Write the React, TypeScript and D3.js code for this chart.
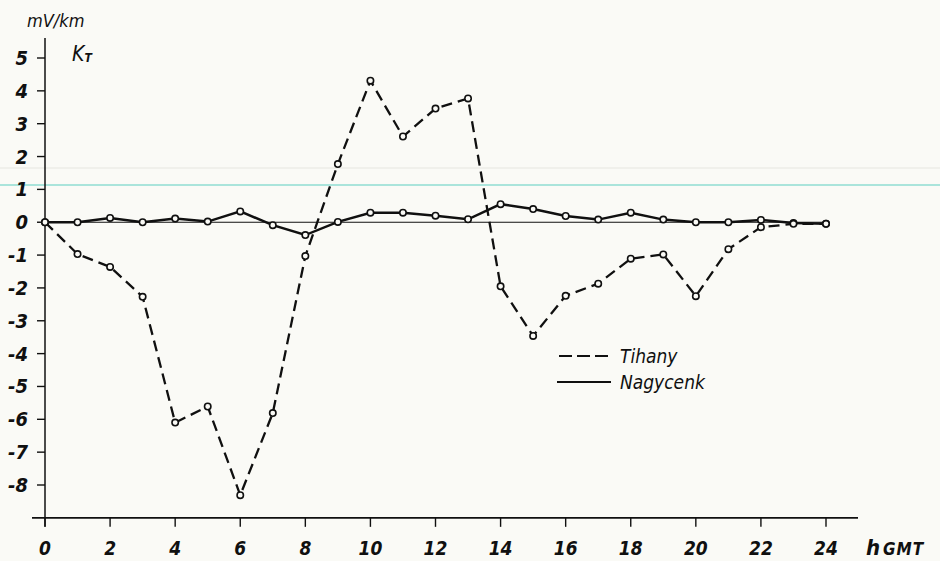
import React from "react";
import * as d3 from "d3";

// Hourly telluric field component K_T (mV/km), 0–24 h GMT
const hours: number[] = d3.range(0, 25);

const tihany: number[] = [
  0, -0.97, -1.36, -2.27, -6.1, -5.61, -8.31, -5.81, -1.03, 1.77, 4.31, 2.61,
  3.46, 3.77, -1.95, -3.46, -2.24, -1.87, -1.11, -0.98, -2.25, -0.82, -0.15,
  -0.05, -0.05,
];

const nagycenk: number[] = [
  0, 0, 0.13, 0, 0.11, 0.02, 0.33, -0.09, -0.39, 0.01, 0.29, 0.29, 0.2, 0.09,
  0.55, 0.4, 0.19, 0.08, 0.29, 0.08, 0, 0, 0.07, -0.02, -0.05,
];

const yTicks: number[] = [5, 4, 3, 2, 1, 0, -1, -2, -3, -4, -5, -6, -7, -8];
const xTicks: number[] = [0, 2, 4, 6, 8, 10, 12, 14, 16, 18, 20, 22, 24];

const seriesNames = ["Tihany", "Nagycenk"];

const W = 940;
const H = 561;
const FONT =
  "'Liberation Sans Narrow', 'DejaVu Sans Condensed', 'Liberation Sans', 'DejaVu Sans', sans-serif";
const INK = "#101010";
const PAPER = "#fafaf6";

export default function App() {
  const x = d3.scaleLinear().domain([0, 24]).range([45, 826]);
  const y = d3.scaleLinear().domain([-8, 5]).range([485, 58]);

  const lineGen = d3
    .line<[number, number]>()
    .x((d) => x(d[0]))
    .y((d) => y(d[1]));

  const tPts: [number, number][] = hours.map((h, i) => [h, tihany[i]]);
  const nPts: [number, number][] = hours.map((h, i) => [h, nagycenk[i]]);

  const axisY = y(-9);
  const x0 = x(0);

  return (
    <div style={{ position: "absolute", left: 0, top: 0 }}>
      <svg
        width={W}
        height={H}
        viewBox={`0 0 ${W} ${H}`}
        style={{ display: "block", background: PAPER }}
        fontFamily={FONT}
      >
        <rect width={W} height={H} fill={PAPER} />
        {/* faint ruled lines across the sheet */}
        <line x1={0} x2={W} y1={168} y2={168} stroke="#e6e6e0" strokeWidth={1} />
        <line x1={0} x2={W} y1={185} y2={185} stroke="#8fdcd2" strokeWidth={1.6} />

        {/* axes */}
        <line x1={x0} x2={x0} y1={38} y2={axisY + 9} stroke={INK} strokeWidth={1.5} />
        <line x1={32} x2={858} y1={axisY} y2={axisY} stroke={INK} strokeWidth={1.8} />
        {/* zero reference */}
        <line x1={x0} x2={x(24) + 3} y1={y(0)} y2={y(0)} stroke={INK} strokeWidth={1.1} />

        {/* y ticks and labels */}
        {yTicks.map((t) => (
          <g key={`y${t}`}>
            <line x1={x0 - 8} x2={x0} y1={y(t)} y2={y(t)} stroke={INK} strokeWidth={1.4} />
            <text
              x={28}
              y={y(t) + 7}
              textAnchor="end"
              fontSize={20}
              fontStyle="italic"
              fontWeight="bold"
              fill={INK}
            >
              {t}
            </text>
          </g>
        ))}

        {/* x ticks and labels */}
        {xTicks.map((t) => (
          <g key={`x${t}`}>
            <line x1={x(t)} x2={x(t)} y1={axisY} y2={axisY + 9} stroke={INK} strokeWidth={1.4} />
            <text
              x={x(t)}
              y={555}
              textAnchor="middle"
              fontSize={19}
              fontStyle="italic"
              fontWeight="bold"
              fill={INK}
            >
              {t}
            </text>
          </g>
        ))}
        <text x={866} y={555} fontSize={22} fontStyle="italic" fontWeight="bold" fill={INK}>
          h
        </text>
        <text
          x={883}
          y={555}
          fontSize={17}
          fontStyle="italic"
          fontWeight="bold"
          letterSpacing={1}
          fill={INK}
        >
          GMT
        </text>

        {/* axis title */}
        <text x={27} y={27} fontSize={18} fontStyle="italic" fill={INK}>
          mV/km
        </text>
        <text x={72} y={61} fontSize={21} fontStyle="italic" fill={INK}>
          K
          <tspan fontSize={12} dy={1} fontWeight="bold">
            T
          </tspan>
        </text>

        {/* series */}
        <path
          d={lineGen(tPts) ?? ""}
          fill="none"
          stroke={INK}
          strokeWidth={2.3}
          strokeDasharray="11 6"
        />
        <path d={lineGen(nPts) ?? ""} fill="none" stroke={INK} strokeWidth={2.5} />

        {nPts.map((p, i) => (
          <circle
            key={`n${i}`}
            cx={x(p[0])}
            cy={y(p[1])}
            r={3.2}
            fill={PAPER}
            stroke={INK}
            strokeWidth={1.6}
          />
        ))}
        {tPts.map((p, i) => (
          <circle
            key={`t${i}`}
            cx={x(p[0])}
            cy={y(p[1])}
            r={3.2}
            fill={PAPER}
            stroke={INK}
            strokeWidth={1.6}
          />
        ))}

        {/* legend */}
        <line
          x1={559}
          x2={611}
          y1={356}
          y2={356}
          stroke={INK}
          strokeWidth={2.2}
          strokeDasharray="13 5"
        />
        <text x={620} y={363} fontSize={19} fontStyle="italic" fill={INK}>
          {seriesNames[0]}
        </text>
        <line x1={557} x2={611} y1={382} y2={382} stroke={INK} strokeWidth={2.2} />
        <text x={620} y={389} fontSize={19} fontStyle="italic" fill={INK}>
          {seriesNames[1]}
        </text>
      </svg>
    </div>
  );
}
